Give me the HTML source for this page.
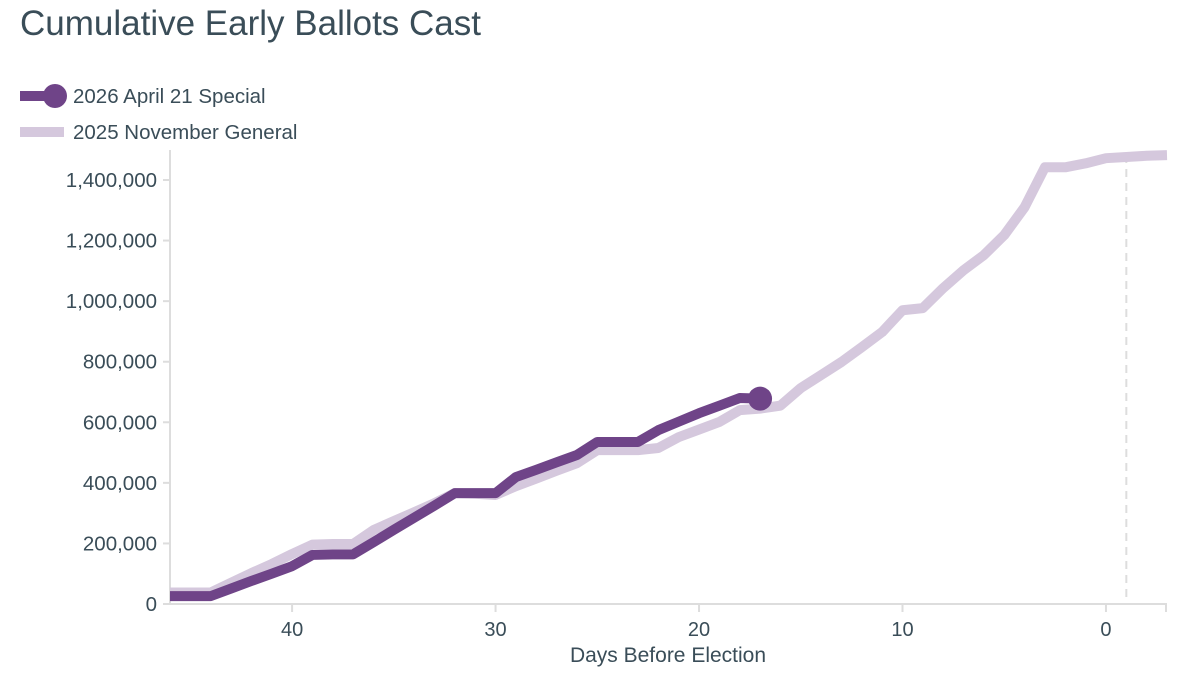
<!DOCTYPE html>
<html><head><meta charset="utf-8"><style>
body{margin:0;background:#fff;font-family:"Liberation Sans",sans-serif;}
svg text{font-family:"Liberation Sans",sans-serif;}
</style></head><body>
<svg width="1189" height="688" viewBox="0 0 1189 688">
<text x="20" y="35" font-size="35" fill="#3a4d58">Cumulative Early Ballots Cast</text>
<g>
<line x1="20" y1="96" x2="55" y2="96" stroke="#6f4488" stroke-width="10"/>
<circle cx="55" cy="96" r="12" fill="#6f4488"/>
<text x="73" y="103" font-size="20.5" fill="#3a4d58">2026 April 21 Special</text>
</g>
<g>
<line x1="20" y1="132" x2="64" y2="132" stroke="#d5c8dd" stroke-width="10"/>
<text x="73" y="139" font-size="20.5" fill="#3a4d58">2025 November General</text>
</g>
<g id="axes"></g>
<g id="marks"></g>
</svg>
<script>
const ns="http://www.w3.org/2000/svg";
const yTicks=[0,200000,400000,600000,800000,1000000,1200000,1400000];
const xTicks=[40,30,20,10,0];
const daysSpecial=[46,45,44,43,42,41,40,39,38,37,36,35,34,33,32,31,30,29,28,27,26,25,24,23,22,21,20,19,18,17];
const valuesSpecial=[26,26,26,51,76,100,125,162,164,164,204,245,285,325,366,366,366,419,443,468,492,535,535,535,574,602,630,655,680,678];
const daysGeneral=[46,45,44,43,42,41,40,39,38,37,36,35,34,33,32,31,30,29,28,27,26,25,24,23,22,21,20,19,18,17,16,15,14,13,12,11,10,9,8,7,6,5,4,3,2,1,0,-1,-2,-3];
const valuesGeneral=[38,38,38,70,102,132,165,196,198,198,244,274,303,333,366,364,360,389,414,440,465,508,508,508,515,551,576,601,640,645,655,713,756,799,848,898,970,977,1043,1102,1152,1218,1310,1442,1442,1455,1472,1476,1480,1482];
const X0=170,X1=1167,D0=46,D1=-3,Y0=604,PXV=424/1400000;
const xs=d=>X0+(D0-d)*(X1-X0)/(D0-D1);
const ys=v=>Y0-v*PXV;
function mk(tag,attrs,parent){const e=document.createElementNS(ns,tag);for(const k in attrs)e.setAttribute(k,attrs[k]);parent.appendChild(e);return e;}
const axes=document.getElementById('axes'),marks=document.getElementById('marks');
let e=mk('line',{x1:X0,y1:150,x2:X0,y2:Y0,stroke:'#ddd','stroke-width':2},axes);


e=mk('line',{x1:X0,y1:Y0,x2:X1,y2:Y0,stroke:'#ddd','stroke-width':2},axes);


yTicks.forEach(v=>{
 mk('line',{x1:X0-7,y1:ys(v),x2:X0,y2:ys(v),stroke:'#ddd','stroke-width':2},axes);
 const t=mk('text',{x:157,y:ys(v)+7,'text-anchor':'end','font-size':20.5,fill:'#3a4d58'},axes);
 t.textContent=v.toLocaleString('en-US');
 
 
});
xTicks.forEach(d=>{
 mk('line',{x1:xs(d),y1:Y0,x2:xs(d),y2:Y0+8,stroke:'#ddd','stroke-width':2},axes);
 const t=mk('text',{x:xs(d),y:636,'text-anchor':'middle','font-size':20,fill:'#3a4d58'},axes);
 t.textContent=d;
 
 
});
mk('line',{x1:X1-1,y1:Y0,x2:X1-1,y2:Y0+8,stroke:'#ddd','stroke-width':2},axes);
e=mk('text',{x:668,y:662,'text-anchor':'middle','font-size':21,fill:'#3a4d58'},axes);
e.textContent='Days Before Election';


e=mk('line',{x1:xs(-1),y1:155,x2:xs(-1),y2:Y0,stroke:'#ddd','stroke-width':2,'stroke-dasharray':'8,6'},axes);


function pts(ds,vs){return ds.map((d,i)=>xs(d)+','+ys(vs[i]*1000)).join(' ');}
e=mk('polyline',{points:pts(daysGeneral,valuesGeneral),fill:'none',stroke:'#d5c8dd','stroke-width':10,'stroke-linejoin':'round'},marks);


e=mk('polyline',{points:pts(daysSpecial,valuesSpecial),fill:'none',stroke:'#6f4488','stroke-width':10,'stroke-linejoin':'round'},marks);


const li=daysSpecial.length-1;
e=mk('circle',{cx:xs(daysSpecial[li]),cy:ys(valuesSpecial[li]*1000),r:12,fill:'#6f4488'},marks);


</script>
</body></html>
